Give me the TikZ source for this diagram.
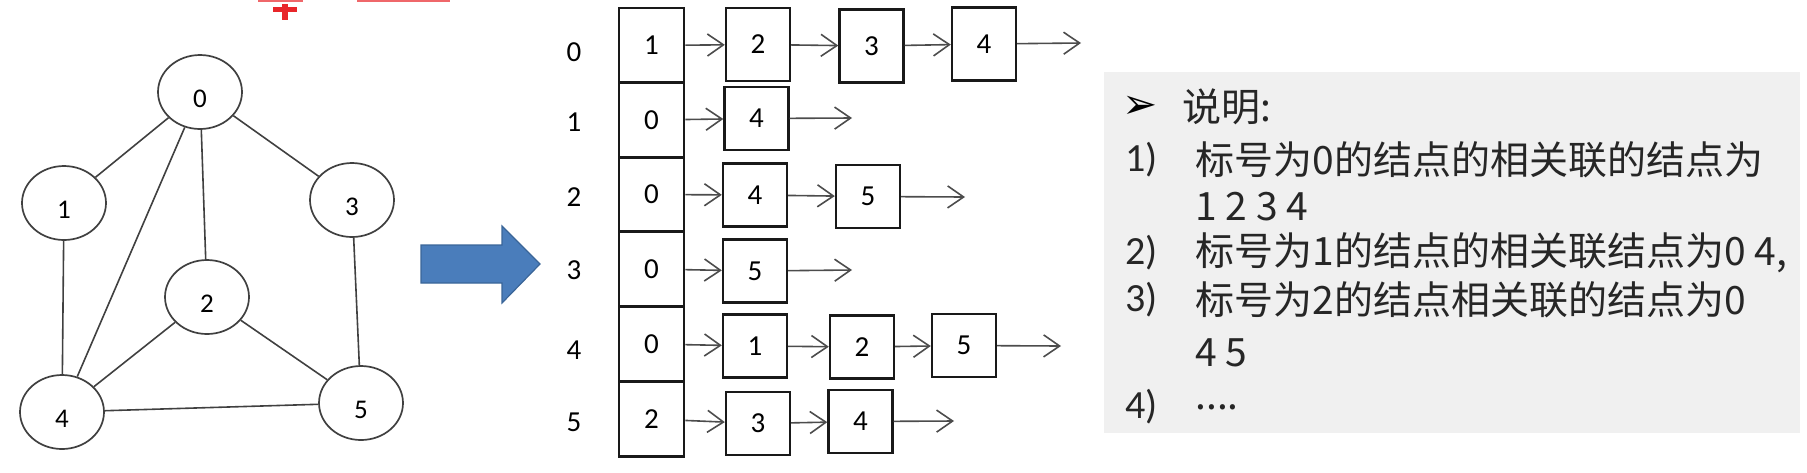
\documentclass[tikz,border=0pt]{standalone}
\usepackage{fontspec}
\setmainfont{Carlito}
\newfontfamily\cjk{Noto Sans CJK SC}
\newfontfamily\dingfont{DejaVu Sans}
\usepackage{xcolor}
\usetikzlibrary{arrows.meta, shapes.geometric}

\definecolor{panelgray}{HTML}{F0F0F0}
\definecolor{arrowblue}{HTML}{4A7DBB}
\definecolor{arrowrim}{HTML}{3A6598}
\definecolor{markred}{HTML}{E8262A}

\begin{document}
\begin{tikzpicture}[x=0.5pt, y=-0.5pt, >={Straight Barb[length=8pt,width=11pt]},
  vtx/.style={draw=black!75, ellipse, line width=0.85pt, minimum width=42pt,
    minimum height=37pt, inner sep=0pt, text height=15pt, text depth=0pt,
    font=\fontsize{13.5}{13}\selectfont},
  gline/.style={draw=black!75, line width=0.8pt},
  hd/.style={draw=black!90, line width=1.4pt, minimum width=32.5pt,
    minimum height=37.5pt, inner sep=0pt, font=\fontsize{14.5}{14}\selectfont},
  cell/.style={draw=black!90, line width=1.2pt, minimum width=32pt,
    minimum height=31.5pt, inner sep=0pt, font=\fontsize{14.5}{14}\selectfont},
  tallcell/.style={cell, minimum height=36.5pt},
  idx/.style={font=\fontsize{14.5}{14}\selectfont},
  lnk/.style={->, draw=black!70, line width=0.8pt},
  note/.style={anchor=west, inner sep=0pt, text=black!85,
    font=\cjk\fontsize{19.5}{20}\selectfont},
  num/.style={anchor=west, inner sep=0pt, text=black!85,
    font=\fontsize{20}{20}\selectfont}
]
  \useasboundingbox (0,0) rectangle (1807,472);

  % red marks cut off at the top
  \fill[markred!70] (258,0) rectangle (303,2);
  \fill[markred!70] (357,0) rectangle (450,2);
  \fill[markred] (282,4) rectangle (288,20);
  \fill[markred] (273,7) rectangle (297,12);

  % The graph
  \node[vtx] (n0) at (200,92) {0};
  \node[vtx] (n1) at (64,203) {1};
  \node[vtx] (n2) at (207,297) {2};
  \node[vtx] (n3) at (352,200) {3};
  \node[vtx] (n4) at (62,412) {4};
  \node[vtx] (n5) at (361,403) {5};

  \draw[gline] (n0) -- (n1);
  \draw[gline] (n0) -- (n3);
  \draw[gline] (n0) -- (n2);
  \draw[gline] (n0) -- (n4);
  \draw[gline] (n1) -- (n4);
  \draw[gline] (n3) -- (n5);
  \draw[gline] (n2) -- (n4);
  \draw[gline] (n2) -- (n5);
  \draw[gline] (n4) -- (n5);

  % Blue arrow in the middle
  \filldraw[fill=arrowblue, draw=arrowrim, line width=0.6pt]
    (421,245) -- (502,245) -- (502,226) -- (540,264) -- (502,303)
    -- (502,283) -- (421,283) -- cycle;

  % Row labels and head column
  \node[idx] (r0) at (574,52) {0};
  \node[idx] (r1) at (574,122) {1};
  \node[idx] (r2) at (574,197) {2};
  \node[idx] (r3) at (574,270) {3};
  \node[idx] (r4) at (574,350) {4};
  \node[idx] (r5) at (574,422) {5};

  \node[hd] (h0) at (651.5,45.5) {1};
  \node[hd] (h1) at (651.5,120) {0};
  \node[hd] (h2) at (651.5,194.5) {0};
  \node[hd] (h3) at (651.5,269) {0};
  \node[hd] (h4) at (651.5,344) {0};
  \node[hd] (h5) at (651.5,419) {2};

  % Lists
  \node[tallcell] (c0a) at (758,44.5) {2};
  \node[tallcell] (c0b) at (871.5,46) {3};
  \node[tallcell] (c0c) at (984,44) {4};
  \coordinate (e0) at (1081,43);

  \node[cell] (c1a) at (756.5,118.5) {4};
  \coordinate (e1) at (852,118);

  \node[cell] (c2a) at (755,195) {4};
  \node[cell] (c2b) at (868,196.5) {5};
  \coordinate (e2) at (965,197);

  \node[cell] (c3a) at (755,271) {5};
  \coordinate (e3) at (852,270);

  \node[cell] (c4a) at (755,346) {1};
  \node[cell] (c4b) at (862,347) {2};
  \node[cell] (c4c) at (964,345.5) {5};
  \coordinate (e4) at (1061,346);

  \node[cell] (c5a) at (758,423.5) {3};
  \node[cell] (c5b) at (860.5,421.5) {4};
  \coordinate (e5) at (954,421);

  \draw[lnk] (h0) -- (c0a);
  \draw[lnk] (c0a) -- (c0b);
  \draw[lnk] (c0b) -- (c0c);
  \draw[lnk] (c0c) -- (e0);

  \draw[lnk] (h1) -- (c1a);
  \draw[lnk] (c1a) -- (e1);

  \draw[lnk] (h2) -- (c2a);
  \draw[lnk] (c2a) -- (c2b);
  \draw[lnk] (c2b) -- (e2);

  \draw[lnk] (h3) -- (c3a);
  \draw[lnk] (c3a) -- (e3);

  \draw[lnk] (h4) -- (c4a);
  \draw[lnk] (c4a) -- (c4b);
  \draw[lnk] (c4b) -- (c4c);
  \draw[lnk] (c4c) -- (e4);

  \draw[lnk] (h5) -- (c5a);
  \draw[lnk] (c5a) -- (c5b);
  \draw[lnk] (c5b) -- (e5);

  % Note panel on the right
  \fill[panelgray] (1104,72) rectangle (1800,433);
  \node[anchor=west, inner sep=0pt, font=\dingfont\fontsize{21}{21}\selectfont] (bul) at (1122,107) {➢};
  \node[note] (ttl) at (1182,107) {说明:};
  \node[num] (i1) at (1125,160) {1)};
  \node[note] (t1) at (1195,160) {标号为0的结点的相关联的结点为};
  \node[note] (t1b) at (1195,207) {1 2 3 4};
  \node[num] (i2) at (1125,253) {2)};
  \node[note] (t2) at (1195,253) {标号为1的结点的相关联结点为0 4,};
  \node[num] (i3) at (1125,300) {3)};
  \node[note] (t3) at (1195,300) {标号为2的结点相关联的结点为0};
  \node[note] (t3b) at (1195,353) {4 5};
  \node[num] (i4) at (1125,407) {4)};
  \node[note] (t4) at (1195,407) {....};
\end{tikzpicture}
\end{document}
